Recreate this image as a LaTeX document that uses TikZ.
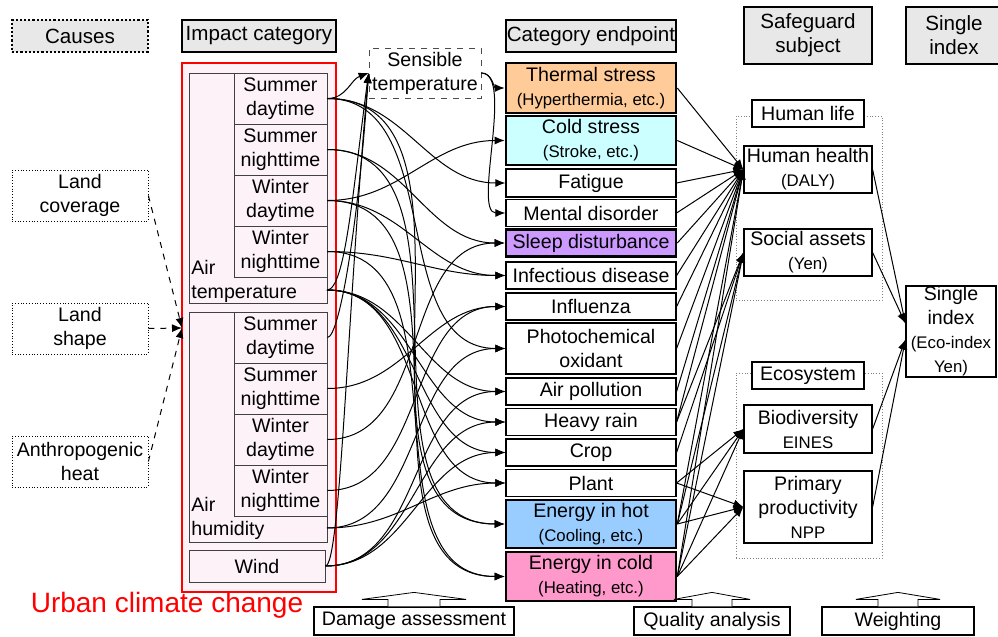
\documentclass[tikz,border=0pt]{standalone}
\usepackage{fontspec}
\setmainfont{Liberation Sans}
\usepackage{tikz}
\usetikzlibrary{arrows.meta,positioning}
\usepackage{xcolor}

\definecolor{hdrgray}{RGB}{232,232,232}
\definecolor{pinkbg}{RGB}{253,242,248}
\definecolor{thermfill}{RGB}{255,204,153}
\definecolor{coldfill}{RGB}{204,255,255}
\definecolor{sleepfill}{RGB}{204,153,255}
\definecolor{hotfill}{RGB}{153,204,255}
\definecolor{heatfill}{RGB}{255,153,204}
\newcommand{\smallf}{\fontsize{8.4}{10}\selectfont}

\begin{document}
\begin{tikzpicture}[x=0.5pt, y=0.5pt,
  every node/.style={inner sep=0pt, align=center, font=\fontsize{9.8}{12}\selectfont},
  head/.style={draw, fill=hdrgray, line width=1.1pt, font=\fontsize{10.3}{12}\selectfont},
  cause/.style={draw, densely dotted, fill=white, minimum width=68pt, minimum height=25.5pt},
  sub/.style={draw=black!75, fill=pinkbg, minimum width=46.5pt, minimum height=25.5pt},
  ep/.style={draw, fill=white, line width=0.6pt, minimum width=85pt, minimum height=13.5pt},
  epk/.style={ep, line width=1.3pt},
  sg/.style={draw, fill=white, line width=0.6pt, minimum width=64pt},
  grp/.style={draw=gray, densely dotted, minimum width=73pt, minimum height=92pt},
  foot/.style={draw, fill=white, line width=0.6pt, minimum height=14pt},
  link/.style={-{Latex[length=5pt,width=4pt]}, line width=0.5pt}]
  \useasboundingbox (0,0) rectangle (998,-637);

  \node[head, densely dotted, minimum width=68pt, minimum height=16pt] (hcause) at (80,-36) {Causes};
  \node[head, minimum width=77pt, minimum height=16pt] (himp) at (259,-36) {Impact category};
  \node[head, minimum width=85pt, minimum height=16pt] (hend) at (591,-36) {Category endpoint};
  \node[head, minimum width=64pt, minimum height=28.5pt] (hsafe) at (808,-35.5) {Safeguard\\subject};
  \node[head, minimum width=48pt, minimum height=28.5pt] (hsi) at (954,-35.5) {Single\\index};

  \node[cause] (lcov) at (80,-195.5) {Land\\coverage};
  \node[cause] (lshp) at (80,-328.5) {Land\\shape};
  \node[cause] (aheat) at (80,-461.5) {Anthropogenic\\heat};

  \node[draw=red, line width=1.2pt, fill=pinkbg, minimum width=77pt, minimum height=264.5pt] (ucc) at (259,-327.5) {};
  \node[text=red, font=\fontsize{14}{16}\selectfont] (ucclbl) at (167,-605) {Urban climate change};

  \node[sub, minimum width=69pt, minimum height=115pt] (atemp) at (258,-188) {};
  \node[anchor=west, align=left] (atlbl) at (191,-281) {Air\\temperature};
  \node[sub] (atsd) at (280.5,-98.5) {Summer\\daytime};
  \node[sub] (atsn) at (280.5,-149.5) {Summer\\nighttime};
  \node[sub] (atwd) at (280.5,-200.5) {Winter\\daytime};
  \node[sub] (atwn) at (280.5,-251.5) {Winter\\nighttime};

  \node[sub, minimum width=69pt, minimum height=115pt] (ahum) at (258,-427) {};
  \node[anchor=west, align=left] (ahlbl) at (191,-518) {Air\\humidity};
  \node[sub] (ahsd) at (280.5,-337.5) {Summer\\daytime};
  \node[sub] (ahsn) at (280.5,-388.5) {Summer\\nighttime};
  \node[sub] (ahwd) at (280.5,-439.5) {Winter\\daytime};
  \node[sub] (ahwn) at (280.5,-490.5) {Winter\\nighttime};

  \node[sub, minimum width=68pt, minimum height=16pt] (wind) at (257,-566) {Wind};
  \coordinate (atout) at (327,-290);
  \coordinate (ahout) at (327,-528);
  \coordinate (cin) at (182,-328);

  \node[draw=black!70, dashed, fill=white, minimum width=56pt, minimum height=25pt] (sens) at (425,-73) {Sensible\\temperature};

  \node[epk, fill=thermfill, minimum height=25pt] (ts) at (591,-88) {Thermal stress\\{\smallf (Hyperthermia, etc.)}};
  \node[epk, fill=coldfill, minimum height=24.5pt] (cs) at (591,-140.5) {Cold stress\\{\smallf (Stroke, etc.)}};
  \node[ep, minimum height=14pt] (fat) at (591,-183) {Fatigue};
  \node[ep] (mdis) at (591,-213) {Mental disorder};
  \node[epk, fill=sleepfill] (sdis) at (591,-243) {Sleep disturbance};
  \node[ep] (infd) at (591,-275.5) {Infectious disease};
  \node[ep] (flu) at (591,-306.5) {Influenza};
  \node[ep, minimum height=25.5pt] (pox) at (591,-348.5) {Photochemical\\oxidant};
  \node[ep] (apol) at (591,-391.5) {Air pollution};
  \node[ep] (hrain) at (591,-422) {Heavy rain};
  \node[ep] (crop) at (591,-452.5) {Crop};
  \node[ep] (plant) at (591,-483) {Plant};
  \node[epk, fill=hotfill, minimum height=24pt] (ehot) at (591,-524) {Energy in hot\\{\smallf (Cooling, etc.)}};
  \node[epk, fill=heatfill, minimum height=24.5pt] (ecold) at (591,-576.5) {Energy in cold\\{\smallf (Heating, etc.)}};

  \node[grp] (hlgrp) at (809,-208) {};
  \node[sg, minimum width=56pt, minimum height=13.5pt] (hlife) at (808,-113.5) {Human life};
  \node[sg, minimum height=23.5pt] (hh) at (808,-169.5) {Human health\\{\smallf (DALY)}};
  \node[sg, minimum height=23.5pt] (sa) at (808,-252.5) {Social assets\\{\smallf (Yen)}};
  \node[grp, minimum height=92.5pt] (ecogrp) at (809,-465.5) {};
  \node[sg, minimum width=56pt, minimum height=13.5pt] (eco) at (808,-375.5) {Ecosystem};
  \node[sg, minimum height=24pt] (bio) at (808,-429) {Biodiversity\\{\smallf EINES}};
  \node[sg, minimum height=36pt] (npp) at (808,-507) {Primary\\productivity\\{\smallf NPP}};
  \node[sg, minimum width=45pt, minimum height=45.5pt] (si) at (951,-331.5) {Single\\index\\{\smallf (Eco-index}\\{\smallf Yen)}};

  \node[foot, minimum width=100pt] (dmg) at (414,-621) {Damage assessment};
  \node[foot, minimum width=78pt] (qual) at (712,-621) {Quality analysis};
  \node[foot, minimum width=76pt] (wgt) at (898,-621) {Weighting};
  \draw[fill=white] (dmg.north) ++(-26,0) -- ++(0,7) -- ++(-26,0) -- ++(52,7) -- ++(52,-7) -- ++(-26,0) -- ++(0,-7);
  \draw[fill=white] (qual.north) ++(-20,0) -- ++(0,7) -- ++(-18,0) -- ++(38,7) -- ++(38,-7) -- ++(-18,0) -- ++(0,-7);
  \draw[fill=white] (wgt.north) ++(-20,0) -- ++(0,7) -- ++(-22,0) -- ++(42,7) -- ++(42,-7) -- ++(-22,0) -- ++(0,-7);

  \draw[link, dashed] (lcov.east) -- (cin);
  \draw[link, dashed] (lshp.east) -- (cin);
  \draw[link, dashed] (aheat.east) -- (cin);

  \draw[link] (atsd.east) to[out=0, in=200] (sens.west);
  \draw[link] (atout) .. controls +(18,0) and +(-16,-120) .. (sens.west);
  \draw[link] (ahsd.east) .. controls +(12,0) and +(-10,-150) .. (sens.west);
  \draw[link] (wind.east) .. controls +(15,0) and +(-22,-250) .. (sens.west);
  \draw[link] (sens.east) to[out=0, in=180] (ts);
  \draw[link] (sens.east) to[out=0, in=180, looseness=0.6] (mdis);

  \draw[link] (atsd) to[out=0, in=180] (fat);
  \draw[link] (atsd) to[out=0, in=180] (ehot);
  \draw[link] (atsd) to[out=0, in=180] (pox);
  \draw[link] (atsn) to[out=0, in=180] (sdis);
  \draw[link] (atsn) to[out=0, in=180] (ehot);
  \draw[link] (atwd) to[out=0, in=180] (cs);
  \draw[link] (atwd) to[out=0, in=180] (infd);
  \draw[link] (atwd) to[out=0, in=180] (ecold);
  \draw[link] (atwn) to[out=0, in=180] (infd);
  \draw[link] (atwn) to[out=0, in=180] (ecold);
  \draw[link] (atout) to[out=0, in=180] (apol);
  \draw[link] (atout) to[out=0, in=180] (hrain);
  \draw[link] (atout) to[out=0, in=180] (crop);
  \draw[link] (atout) to[out=0, in=180] (plant);
  \draw[link] (ahsn) to[out=0, in=180] (flu);
  \draw[link] (ahwd) to[out=0, in=180] (sdis);
  \draw[link] (ahwn) to[out=0, in=180] (flu);
  \draw[link] (ahout) to[out=0, in=180] (plant);
  \draw[link] (ahout) to[out=0, in=180] (pox);
  \draw[link] (wind) to[out=0, in=180] (apol);
  \draw[link] (wind) to[out=0, in=180] (hrain);
  \draw[link] (wind) to[out=0, in=180] (crop);

  \draw[link] (ts.east) -- (hh.west);
  \draw[link] (cs.east) -- (hh.west);
  \draw[link] (fat.east) -- (hh.west);
  \draw[link] (mdis.east) -- (hh.west);
  \draw[link] (sdis.east) -- (hh.west);
  \draw[link] (infd.east) -- (hh.west);
  \draw[link] (flu.east) -- (hh.west);
  \draw[link] (pox.east) -- (hh.west);
  \draw[link] (apol.east) -- (hh.west);
  \draw[link] (hrain.east) -- (hh.west);
  \draw[link] (ehot.east) -- (hh.west);
  \draw[link] (ecold.east) -- (hh.west);
  \draw[link] (hrain.east) -- (sa.west);
  \draw[link] (crop.east) -- (sa.west);
  \draw[link] (ehot.east) -- (sa.west);
  \draw[link] (ecold.east) -- (sa.west);
  \draw[link] (plant.east) -- (bio.west);
  \draw[link] (ehot.east) -- (bio.west);
  \draw[link] (ecold.east) -- (bio.west);
  \draw[link] (plant.east) -- (npp.west);
  \draw[link] (ehot.east) -- (npp.west);
  \draw[link] (ecold.east) -- (npp.west);

  \draw[link] (hh.east) -- (si.170);
  \draw[link] (sa.east) -- (si.170);
  \draw[link] (bio.east) -- (si.190);
  \draw[link] (npp.east) -- (si.190);
\end{tikzpicture}
\end{document}
